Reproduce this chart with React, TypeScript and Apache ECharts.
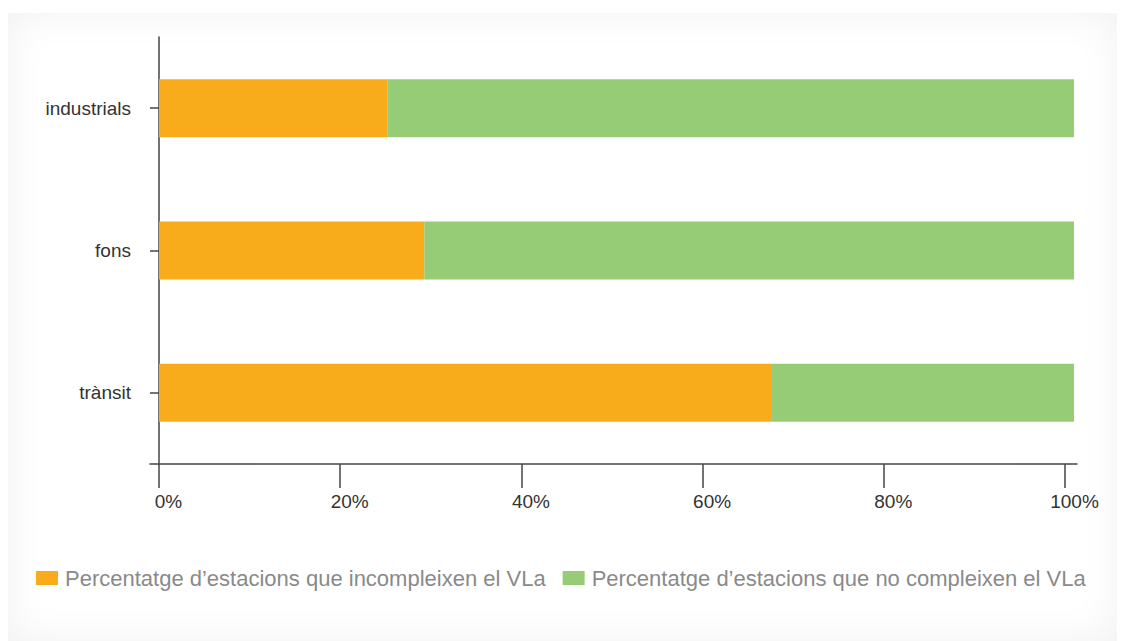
import React, { useEffect, useRef } from "react";
import * as echarts from "echarts";

const categories = ["industrials", "fons", "trànsit"];
const seriesNames = [
  "Percentatge d’estacions que incompleixen el VLa",
  "Percentatge d’estacions que no compleixen el VLa",
];
const incompleixen = [25, 29, 67];
const noCompleixen = [75, 71, 33];
const tickValues = [0, 20, 40, 60, 80, 100];
const colors = ["#F9AC1B", "#96CC75"];

const FONT = "'Liberation Sans', Arial, sans-serif";

export default function App() {
  const ref = useRef<HTMLDivElement>(null);
  useEffect(() => {
    if (!ref.current) return;
    const chart = echarts.init(ref.current, undefined, { renderer: "svg" });
    chart.setOption({
      animation: false,
      color: colors,
      textStyle: { fontFamily: FONT },
      grid: { left: 150, right: 48, top: 37, bottom: 177, containLabel: false },
      legend: {
        left: 36,
        top: 567,
        padding: 0,
        itemWidth: 22,
        itemHeight: 14,
        itemGap: 17,
        icon: "rect",
        textStyle: { fontSize: 22, color: "#8a8a8a", fontFamily: FONT, padding: [0, 0, 0, 2] },
        data: seriesNames,
      },
      xAxis: [
        {
          type: "value",
          min: -9 / 9.15,
          max: 918 / 9.15,
          show: false,
          splitLine: { show: false },
        },
        {
          type: "value",
          position: "bottom",
          min: -9 / 9.06,
          max: 918 / 9.06,
          splitLine: { show: false },
          axisLine: { show: true, onZero: false, lineStyle: { color: "#444", width: 1.5 } },
          axisTick: {
            show: true,
            length: 24,
            inside: false,
            customValues: tickValues,
            lineStyle: { color: "#444", width: 1.5 },
          },
          axisLabel: {
            customValues: tickValues,
            formatter: "{value}%",
            fontSize: 19,
            color: "#333",
            margin: 28,
            padding: [0, 0, 0, 19],
            fontFamily: FONT,
          },
        },
      ],
      yAxis: {
        type: "category",
        inverse: true,
        data: categories,
        axisLine: { show: true, onZero: true, onZeroAxisIndex: 0, lineStyle: { color: "#444", width: 1.5 } },
        axisTick: { show: true, alignWithLabel: true, length: 9, lineStyle: { color: "#444", width: 1.5 } },
        axisLabel: { fontSize: 19, color: "#333", margin: 19, fontFamily: FONT },
        splitLine: { show: false },
      },
      series: [
        {
          name: seriesNames[0],
          type: "bar",
          stack: "total",
          xAxisIndex: 0,
          barWidth: 58,
          data: incompleixen,
        },
        {
          name: seriesNames[1],
          type: "bar",
          stack: "total",
          xAxisIndex: 0,
          barWidth: 58,
          data: noCompleixen,
        },
      ],
    });
    return () => chart.dispose();
  }, []);

  return (
    <div style={{ position: "absolute", left: 0, top: 0, width: 1125, height: 641, background: "#fff" }}>
      <div
        style={{
          position: "absolute",
          left: 8,
          top: 13,
          width: 1109,
          height: 628,
          background: "#fff",
          boxShadow: "inset 0 0 40px rgba(0,0,0,0.06)",
        }}
      />
      <div ref={ref} style={{ position: "absolute", left: 0, top: 0, width: 1125, height: 641 }} />
    </div>
  );
}
